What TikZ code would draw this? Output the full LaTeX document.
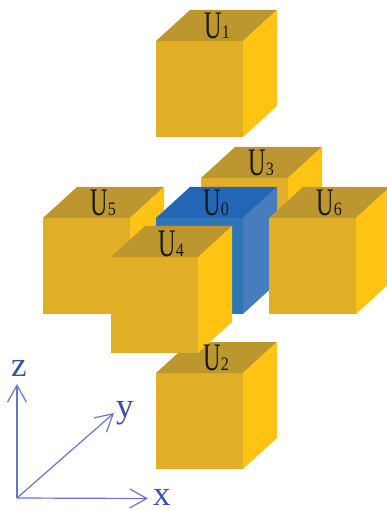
\documentclass[tikz,border=0pt]{standalone}
\usepackage{fontspec}
\setmainfont{Liberation Serif}
\usetikzlibrary{arrows.meta}
\definecolor{ft}{HTML}{E0AF25}
\definecolor{tp}{HTML}{BC972F}
\definecolor{sd}{HTML}{FFC413}
\definecolor{bft}{HTML}{2E75B6}
\definecolor{btp}{HTML}{2167B5}
\definecolor{bsd}{HTML}{457DBD}
\definecolor{axc}{HTML}{6C74C4}
\definecolor{axt}{HTML}{3A50A8}
\tikzset{
  lab/.style={anchor=base west,inner sep=0pt,outer sep=0pt,text=black!90},
  axlab/.style={anchor=base west,inner sep=0pt,outer sep=0pt,text=axt,font=\fontsize{35}{35}\selectfont},
  axis/.style={draw=axc,line width=1.2pt,-{Straight Barb[length=17pt,width=19pt,line width=1.2pt]}}
}
% #1 x, #2 top y of front face, #3 front, #4 top, #5 side
\newcommand{\mycube}[5]{%
  \fill[#3] (#1,-#2) rectangle ++(87,-96);
  \fill[#4] (#1,-#2) -- ++(34,31) -- ++(87,0) -- ++(-34,-31) -- cycle;
  \fill[#5] (#1+87,-#2) -- ++(34,31) -- ++(0,-96) -- ++(-34,-31) -- cycle;
}
\newcommand{\ulab}[1]{\scalebox{.62}[1]{\fontsize{39}{39}\selectfont U}\hspace{.5pt}\scalebox{.85}[1]{\fontsize{19}{19}\selectfont #1}}
\begin{document}
\begin{tikzpicture}[x=1pt,y=1pt]
\useasboundingbox (0,0) rectangle (387,-510);
\mycube{156}{41}{ft}{tp}{sd}
\mycube{201}{178}{ft}{tp}{sd}
\mycube{43}{218}{ft}{tp}{sd}
\mycube{156}{218}{bft}{btp}{bsd}
\mycube{269}{218}{ft}{tp}{sd}
\mycube{156}{373}{ft}{tp}{sd}
\mycube{111}{257}{ft}{tp}{sd}
\node[lab] (U1) at (204,-39) {\ulab{1}};
\node[lab] (U3) at (248,-176) {\ulab{3}};
\node[lab] (U5) at (90,-215) {\ulab{5}};
\node[lab] (U0) at (203,-215) {\ulab{0}};
\node[lab] (U6) at (316,-215) {\ulab{6}};
\node[lab] (U4) at (158,-256) {\ulab{4}};
\node[lab] (U2) at (203,-370) {\ulab{2}};
\coordinate (o) at (17,-498);
\coordinate (zt) at (17,-384);
\coordinate (yt) at (114,-413);
\coordinate (xt) at (148,-498.5);
\draw[axis] (o) -- (zt);
\draw[axis] (o) -- (yt);
\draw[axis] (o) -- (xt);
\node[axlab] (lz) at (11,-376) {z};
\node[axlab] (ly) at (116,-417) {y};
\node[axlab] (lx) at (153,-505) {x};
\end{tikzpicture}
\end{document}
